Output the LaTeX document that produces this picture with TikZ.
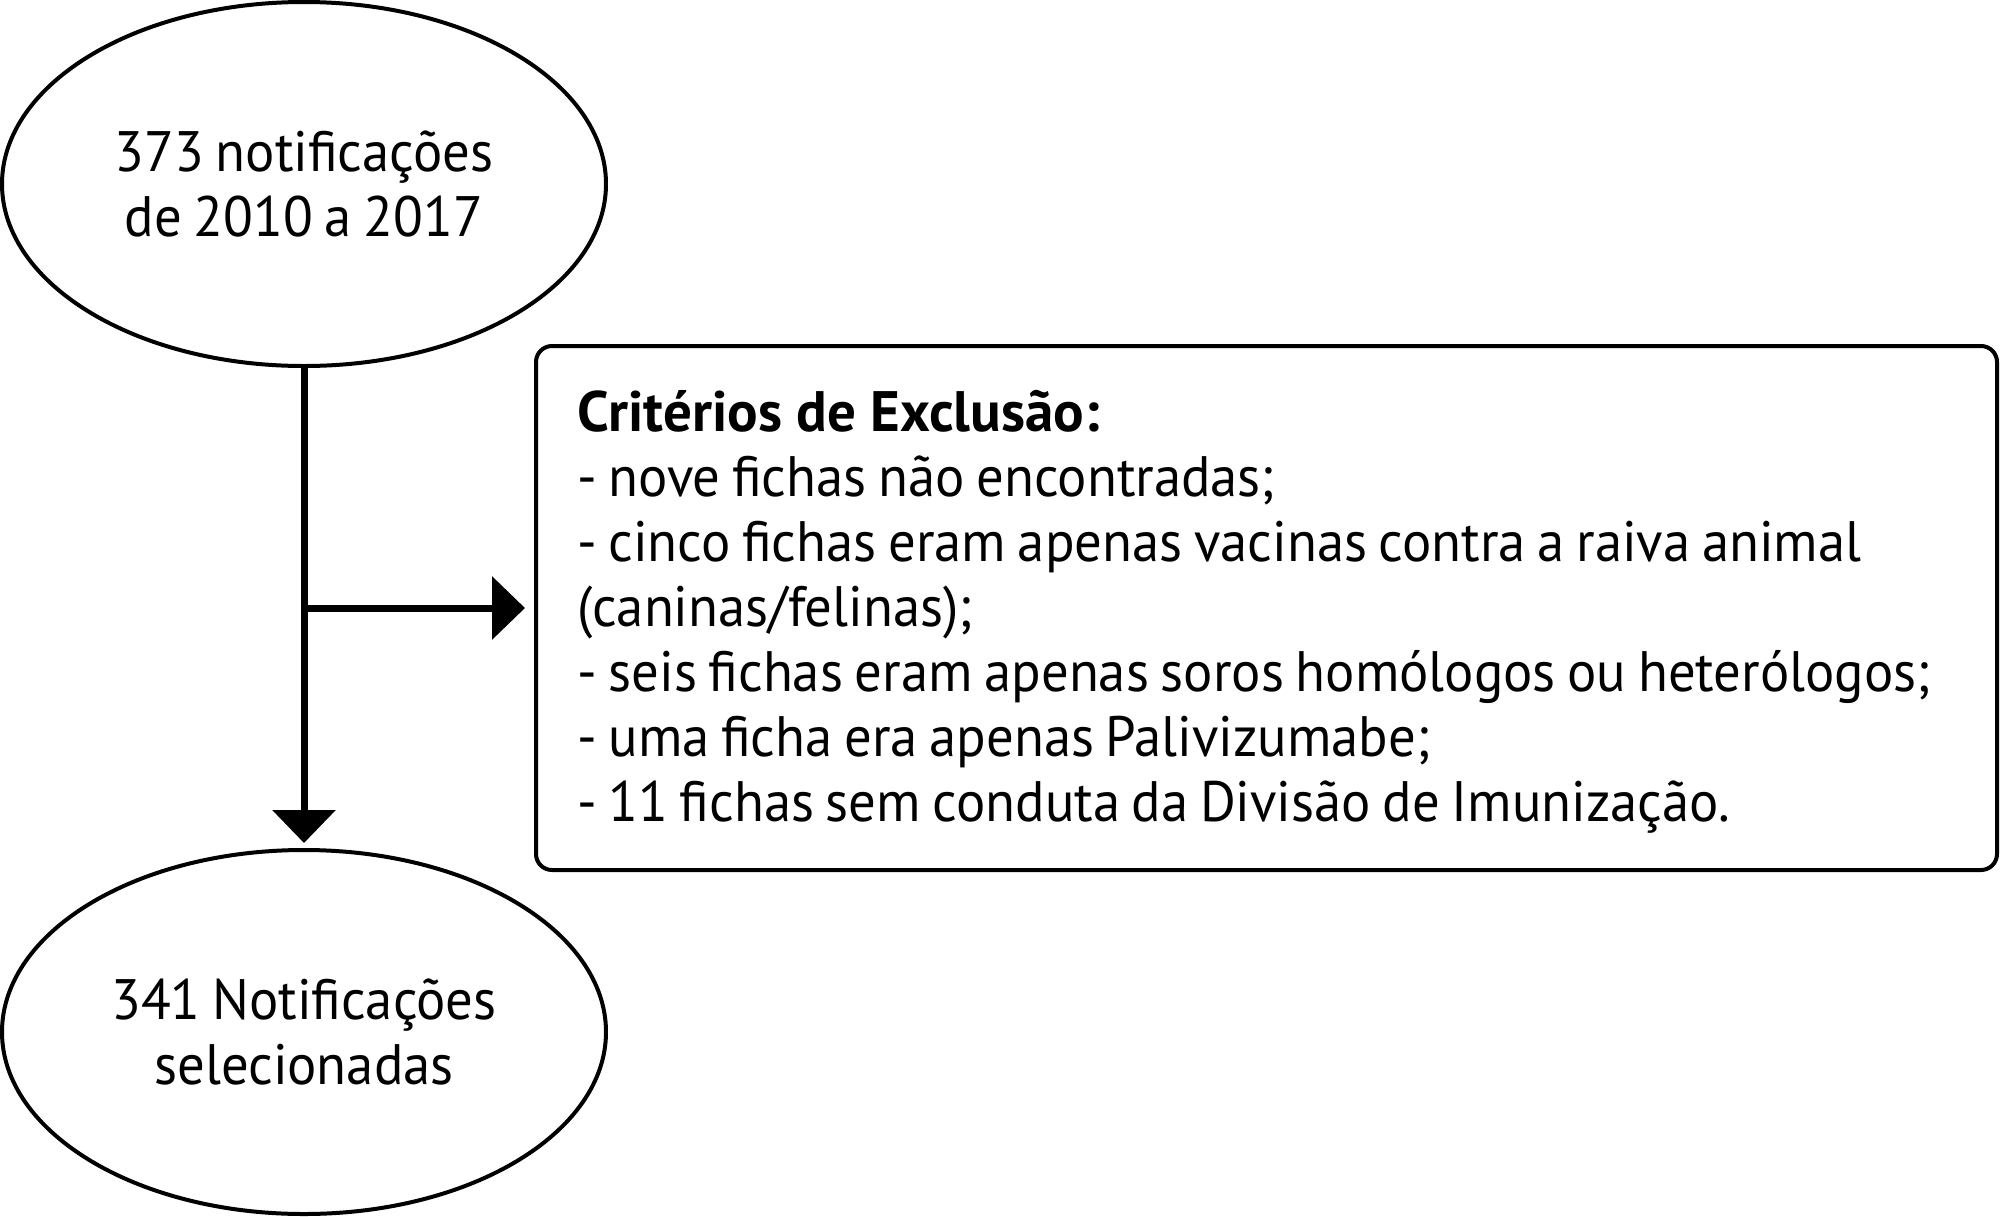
\documentclass[tikz,border=0pt]{standalone}
\usepackage{fontspec}
\setmainfont{PT Sans}[FakeStretch=0.96,WordSpace=0.8]
\newfontfamily\hdfont{PT Sans}
\usetikzlibrary{shapes.geometric,arrows.meta}
\begin{document}
\begin{tikzpicture}[x=1pt,y=-1pt,
  oval/.style={ellipse,draw,line width=4pt,minimum width=604pt,minimum height=364pt,inner sep=0pt,align=center,font=\fontsize{57}{65}\selectfont},
  crit/.style={draw,line width=4pt,rounded corners=16pt,minimum width=1461pt,minimum height=524pt,inner sep=0pt},
  line/.style={anchor=base west,inner sep=0pt,font=\fontsize{57}{65}\selectfont},
  flow/.style={line width=7pt,-{Triangle[width=62pt,length=33pt]}}]
\useasboundingbox (0,0) rectangle (2000,1216);
\node[oval] (top) at (304,184) {373 notificações\\de 2010 a 2017};
\node[oval] (bot) at (304,1032) {341 Notificações\\selecionadas};
\node[crit] (box) at (1266.5,608) {};
\node[line] (l0) at (577,431) {\hdfont\bfseries Critérios de Exclusão:};
\node[line] (l1) at (577,496) {- nove fichas não encontradas;};
\node[line] (l2) at (577,561) {- cinco fichas eram apenas vacinas contra a raiva animal};
\node[line] (l3) at (577,626) {(caninas/felinas);};
\node[line] (l4) at (577,691) {- seis fichas eram apenas soros homólogos ou heterólogos;};
\node[line] (l5) at (577,756) {- uma ficha era apenas Palivizumabe;};
\node[line] (l6) at (577,821) {- 11 fichas sem conduta da Divisão de Imunização.};
\coordinate (j) at (top.south |- box.west);
\draw[flow,shorten >=5pt] (top.south) -- (bot.north);
\draw[flow,shorten >=9pt] (j) -- (box.west);
\end{tikzpicture}
\end{document}
